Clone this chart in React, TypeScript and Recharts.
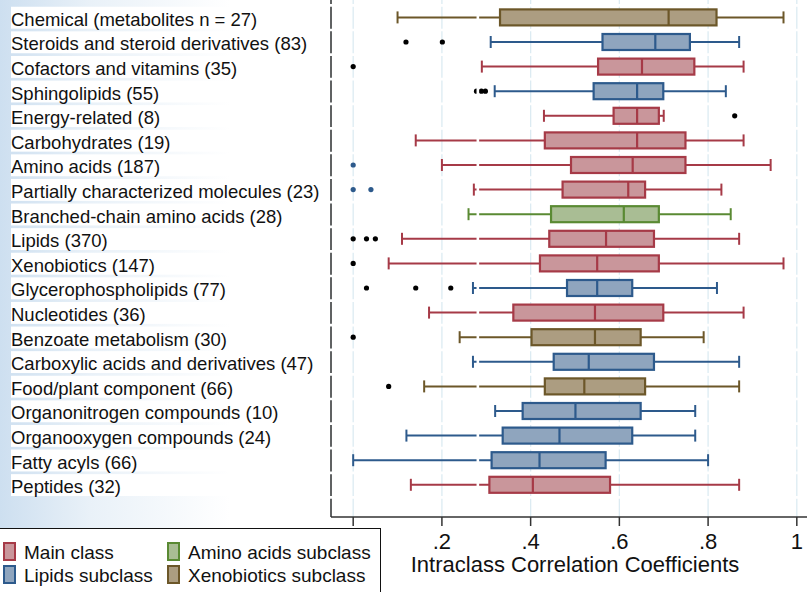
import { ComposedChart, Bar, XAxis, YAxis, CartesianGrid, ReferenceLine } from "recharts";

const categories = [
  "Chemical (metabolites n = 27)",
  "Steroids and steroid derivatives (83)",
  "Cofactors and vitamins (35)",
  "Sphingolipids (55)",
  "Energy-related (8)",
  "Carbohydrates (19)",
  "Amino acids (187)",
  "Partially characterized molecules (23)",
  "Branched-chain amino acids (28)",
  "Lipids (370)",
  "Xenobiotics (147)",
  "Glycerophospholipids (77)",
  "Nucleotides (36)",
  "Benzoate metabolism (30)",
  "Carboxylic acids and derivatives (47)",
  "Food/plant component (66)",
  "Organonitrogen compounds (10)",
  "Organooxygen compounds (24)",
  "Fatty acyls (66)",
  "Peptides (32)",
];

// which legend group each row belongs to
const groups = [
  "xeno", "lipid", "main", "lipid", "main", "main", "main", "main", "amino", "main",
  "main", "lipid", "main", "xeno", "lipid", "xeno", "lipid", "lipid", "lipid", "main",
];

const whiskerLow = [0.1, 0.31, 0.29, 0.319, 0.43, 0.141, 0.2, 0.272, 0.26, 0.11, 0.08, 0.27, 0.171, 0.24, 0.27, 0.16, 0.32, 0.12, 0.0, 0.13];
const q1 = [0.331, 0.562, 0.552, 0.542, 0.587, 0.432, 0.491, 0.472, 0.446, 0.442, 0.421, 0.482, 0.361, 0.402, 0.452, 0.432, 0.382, 0.337, 0.312, 0.307];
const median = [0.711, 0.681, 0.651, 0.64, 0.64, 0.64, 0.63, 0.62, 0.61, 0.57, 0.55, 0.55, 0.545, 0.545, 0.531, 0.521, 0.501, 0.465, 0.42, 0.405];
const q3 = [0.819, 0.759, 0.769, 0.699, 0.689, 0.749, 0.749, 0.658, 0.689, 0.678, 0.689, 0.629, 0.699, 0.648, 0.678, 0.658, 0.648, 0.629, 0.569, 0.579];
const whiskerHigh = [0.97, 0.87, 0.88, 0.84, 0.7, 0.88, 0.941, 0.83, 0.851, 0.87, 0.97, 0.82, 0.88, 0.79, 0.87, 0.87, 0.771, 0.771, 0.8, 0.87];
const outliers = [
  [], [0.119, 0.201], [0], [0.278, 0.289, 0.298], [0.86], [], [0], [0, 0.04], [], [0, 0.03, 0.05],
  [0], [0.03, 0.141, 0.22], [], [0], [], [0.08], [], [], [], [],
];
const blueOutlierRows = ["Amino acids (187)", "Partially characterized molecules (23)"];

const xTicks = [0, 0.2, 0.4, 0.6, 0.8, 1];
const breakAt = 0.281; // white break line seen through the whiskers

const legendLabels = { main: "Main class", lipid: "Lipids subclass", amino: "Amino acids subclass", xeno: "Xenobiotics subclass" };

const palette: Record<string, { fill: string; stroke: string }> = {
  main: { fill: "#c9969b", stroke: "#a63a47" },
  lipid: { fill: "#8fa5be", stroke: "#2d5a8c" },
  amino: { fill: "#a9bd94", stroke: "#5a8a33" },
  xeno: { fill: "#ac9d81", stroke: "#6c5729" },
};

const data = categories.map((name, i) => ({
  name,
  group: groups[i],
  lo: whiskerLow[i],
  q1: q1[i],
  med: median[i],
  q3: q3[i],
  hi: whiskerHigh[i],
  out: outliers[i],
  range: [whiskerLow[i], whiskerHigh[i]],
}));

const FONT = "'Liberation Sans', Arial, Helvetica, sans-serif";

function BoxShape(props: any) {
  const { x, y, width, height, payload } = props;
  const px = (v: number) => x + ((v - payload.lo) / (payload.hi - payload.lo)) * width;
  const cy = y + height / 2;
  const c = palette[payload.group];
  const dot = blueOutlierRows.includes(payload.name) ? "#2d5a8c" : "#000";
  return (
    <g>
      <line x1={px(payload.lo)} x2={px(payload.q1)} y1={cy} y2={cy} stroke={c.stroke} strokeWidth={2} />
      <line x1={px(payload.q3)} x2={px(payload.hi)} y1={cy} y2={cy} stroke={c.stroke} strokeWidth={2} />
      <line x1={px(payload.lo)} x2={px(payload.lo)} y1={cy - 6} y2={cy + 6} stroke={c.stroke} strokeWidth={2} />
      <line x1={px(payload.hi)} x2={px(payload.hi)} y1={cy - 6} y2={cy + 6} stroke={c.stroke} strokeWidth={2} />
      <rect x={px(payload.q1)} y={y} width={px(payload.q3) - px(payload.q1)} height={height} fill={c.fill} stroke={c.stroke} strokeWidth={2.2} />
      <line x1={px(payload.med)} x2={px(payload.med)} y1={y} y2={y + height} stroke={c.stroke} strokeWidth={2.2} />
      {payload.out.map((v: number, k: number) => (
        <circle key={k} cx={px(v)} cy={cy} r={2.6} fill={dot} />
      ))}
    </g>
  );
}

function CategoryTick({ y, payload }: any) {
  return (
    <g>
      <rect x={11} y={y - 10.95} width={318} height={21.9} fill="#fff" />
      <text x={11} y={y} dy={8} fontSize={18.5} fill="#111" fontFamily={FONT}>
        {payload.value}
      </text>
    </g>
  );
}

function ValueTick({ x, y, payload }: any) {
  const v = payload.value;
  // the 0 label sits under the legend box in the original, so it is left blank
  if (v === 0) return null;
  const label = v === 1 ? "1" : String(v).replace(/^0/, "");
  return (
    <text x={x} y={y} dy={21} textAnchor="middle" fontSize={22} fill="#111" fontFamily={FONT}>
      {label}
    </text>
  );
}

function LegendSwatch({ group }: { group: string }) {
  const c = palette[group];
  return (
    <span
      style={{
        display: "inline-block",
        width: 9,
        height: 15,
        background: c.fill,
        border: `2px solid ${c.stroke}`,
        marginRight: 8,
        verticalAlign: "-2px",
      }}
    />
  );
}

export default function App() {
  return (
    <div
      style={{
        position: "absolute",
        left: 0,
        top: 0,
        width: 807,
        height: 592,
        overflow: "hidden",
        background: "linear-gradient(90deg, #cddff0 0px, #e9f1f8 90px, #ffffff 230px)",
      }}
    >
      <ComposedChart width={819} height={592} data={data} layout="vertical" margin={{ top: 0, right: 0, bottom: 0, left: 0 }}>
        <CartesianGrid
          horizontal={false}
          stroke="#dcebf2"
          strokeWidth={1.3}
          strokeDasharray="21.9 2.7"
          strokeDashoffset={17.85}
        />
        <XAxis
          type="number"
          domain={[-0.05, 1.05]}
          allowDataOverflow
          ticks={xTicks}
          height={75}
          tickSize={9}
          axisLine={{ stroke: "#333", strokeWidth: 1.5 }}
          tickLine={{ stroke: "#333", strokeWidth: 1.5 }}
          tick={<ValueTick />}
          label={{
            value: "Intraclass Correlation Coefficients",
            position: "insideBottom",
            offset: 20,
            fontSize: 22,
            fill: "#111",
            fontFamily: FONT,
          }}
        />
        <YAxis
          type="category"
          dataKey="name"
          width={331}
          padding={{ top: 5.4, bottom: 19.6 }}
          tickLine={false}
          interval={0}
          axisLine={{ stroke: "#333", strokeWidth: 1.5, strokeDasharray: "21.9 2.7", strokeDashoffset: 17.85 }}
          tick={<CategoryTick />}
        />
        <Bar dataKey="range" barSize={16} shape={<BoxShape />} isAnimationActive={false} />
        <ReferenceLine x={breakAt} stroke="#fff" strokeWidth={2.6} />
      </ComposedChart>
      <div
        style={{
          position: "absolute",
          left: -2,
          top: 528,
          width: 381,
          height: 80,
          background: "#fff",
          border: "1.5px solid #111",
          fontFamily: FONT,
          fontSize: 19,
          color: "#111",
        }}
      >
        <div style={{ position: "absolute", left: 4, top: 13, whiteSpace: "nowrap" }}>
          <LegendSwatch group="main" />
          {legendLabels.main}
        </div>
        <div style={{ position: "absolute", left: 4, top: 36, whiteSpace: "nowrap" }}>
          <LegendSwatch group="lipid" />
          {legendLabels.lipid}
        </div>
        <div style={{ position: "absolute", left: 168, top: 13, whiteSpace: "nowrap" }}>
          <LegendSwatch group="amino" />
          {legendLabels.amino}
        </div>
        <div style={{ position: "absolute", left: 168, top: 36, whiteSpace: "nowrap" }}>
          <LegendSwatch group="xeno" />
          {legendLabels.xeno}
        </div>
      </div>
    </div>
  );
}
